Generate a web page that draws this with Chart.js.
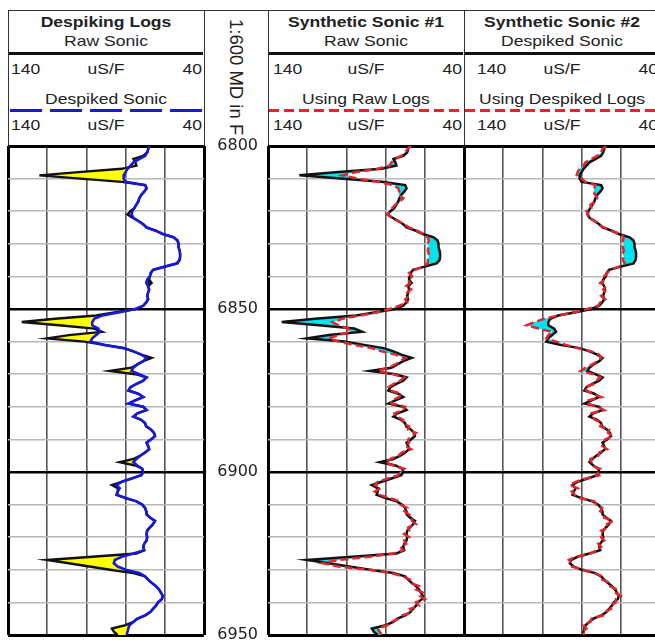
<!DOCTYPE html>
<html>
<head>
<meta charset="utf-8">
<script src="https://cdn.jsdelivr.net/npm/chart.js@4.4.1/dist/chart.umd.min.js"></script>
<style>
  html, body { margin: 0; padding: 0; background: #fff; }
  #page { position: relative; width: 655px; height: 640px; overflow: hidden; font-family: "Liberation Sans", Arial, sans-serif; color: #222; }
  canvas { position: absolute; top: 0; }
  .t { position: absolute; font-size: 15px; line-height: 17px; white-space: nowrap; }
  .ctr { width: 196px; text-align: center; transform: scaleX(1.17); transform-origin: 50% 0; }
  .lft { transform: scaleX(1.17); transform-origin: 0 0; }
  .rgt { width: 60px; text-align: right; transform: scaleX(1.17); transform-origin: 100% 0; }
  .b { font-weight: bold; }
  .ln { position: absolute; }
  .vl { position: absolute; top: 10px; height: 136px; width: 1.5px; background: #333; }
  .thick { position: absolute; top: 52px; height: 3px; width: 194px; background: #111; }
  .dash { position: absolute; top: 108.5px; height: 3px; width: 194px; }
  #depthTitle { position: absolute; left: 226px; top: 19px; font-size: 18.5px; line-height: 20px; writing-mode: vertical-rl; white-space: nowrap; }
</style>
</head>
<body>
<div id="page">
  <div class="ln" style="left:8px;top:9.5px;width:660px;height:1.5px;background:#333"></div>
  <div class="vl" style="left:7.5px"></div>
  <div class="vl" style="left:203.5px"></div>
  <div class="vl" style="left:267.5px"></div>
  <div class="vl" style="left:463.5px"></div>

  <div class="t ctr b" style="left:8px;top:13px">Despiking Logs</div>
  <div class="t ctr" style="left:8px;top:32px">Raw Sonic</div>
  <div class="thick" style="left:9px"></div>
  <div class="t lft" style="left:11px;top:60.3px">140</div>
  <div class="t ctr" style="left:8px;top:60.3px">uS/F</div>
  <div class="t rgt" style="left:142px;top:60.3px">40</div>
  <div class="t ctr" style="left:8px;top:90.3px">Despiked Sonic</div>
  <div class="dash" style="left:10px;background:repeating-linear-gradient(to right,#1818d8 0 32px,transparent 32px 40px)"></div>
  <div class="t lft" style="left:11px;top:115.6px">140</div>
  <div class="t ctr" style="left:8px;top:115.6px">uS/F</div>
  <div class="t rgt" style="left:142px;top:115.6px">40</div>

  <div id="depthTitle">1:600 MD in F</div>

  <div class="t ctr b" style="left:268px;top:13px">Synthetic Sonic #1</div>
  <div class="t ctr" style="left:268px;top:32px">Raw Sonic</div>
  <div class="thick" style="left:269px"></div>
  <div class="t lft" style="left:273px;top:60.3px">140</div>
  <div class="t ctr" style="left:268px;top:60.3px">uS/F</div>
  <div class="t rgt" style="left:402px;top:60.3px">40</div>
  <div class="t ctr" style="left:268px;top:90.3px">Using Raw Logs</div>
  <div class="dash" style="left:269px;background:repeating-linear-gradient(to right,#e3262b 0 10px,transparent 10px 15px)"></div>
  <div class="t lft" style="left:273px;top:115.6px">140</div>
  <div class="t ctr" style="left:268px;top:115.6px">uS/F</div>
  <div class="t rgt" style="left:402px;top:115.6px">40</div>

  <div class="t ctr b" style="left:464px;top:13px">Synthetic Sonic #2</div>
  <div class="t ctr" style="left:464px;top:32px">Despiked Sonic</div>
  <div class="thick" style="left:465px"></div>
  <div class="t lft" style="left:477px;top:60.3px">140</div>
  <div class="t ctr" style="left:464px;top:60.3px">uS/F</div>
  <div class="t rgt" style="left:598px;top:60.3px">40</div>
  <div class="t ctr" style="left:464px;top:90.3px">Using Despiked Logs</div>
  <div class="dash" style="left:465px;background:repeating-linear-gradient(to right,#e3262b 0 10px,transparent 10px 15px)"></div>
  <div class="t lft" style="left:477px;top:115.6px">140</div>
  <div class="t ctr" style="left:464px;top:115.6px">uS/F</div>
  <div class="t rgt" style="left:598px;top:115.6px">40</div>

  <canvas id="track1" width="210" height="690" style="left:0px"></canvas>
  <canvas id="track2" width="266" height="690" style="left:204px"></canvas>
  <canvas id="track3" width="209" height="690" style="left:458px"></canvas>
</div>

<script>
// depth samples, 1 ft apart, 6800 - 6950
const depths = [];
for (let d = 6800; d <= 6950; d++) depths.push(d);

// sonic values in uS/F, one per depth sample
const rawSonic = [
  68, 68.5, 69, 71, 76, 75, 74.5, 82, 104, 124,
  103, 82, 70, 69.3, 70.5, 72, 73, 73.5, 74.5, 75.5,
  77.5, 79, 76.5, 73.5, 71, 69.3, 64.5, 61, 55.5, 53.5,
  53, 53, 52.5, 52.2, 52.2, 52.5, 54, 60, 66, 67.2,
  67.6, 68, 66.7, 68.5, 68, 68.5, 69, 68.5, 69.5, 71,
  75, 85, 95, 116, 133, 114, 96, 92, 109, 120,
  101, 91, 81, 76, 72, 66.7, 71, 74, 77, 88,
  75, 69.3, 71, 74.5, 77.5, 78.6, 73.5, 71, 75, 78.5,
  71, 69.3, 74, 76, 72, 70.1, 69.5, 67, 65.5, 65,
  67, 69.3, 68.5, 68, 70, 72.5, 76, 83, 75, 71.5,
  71, 72, 77, 82, 87, 84, 84, 84.6, 80, 74.4,
  71.5, 70.1, 69.5, 69.3, 67.5, 65, 66, 67.6, 69, 69.3,
  69, 69.3, 70.5, 71, 70.5, 74.5, 97, 120, 109, 98.5,
  88, 76, 70.1, 68.5, 66.7, 64.5, 63, 62, 61, 61.5,
  63.5, 64.5, 66, 67.5, 70, 74, 76.1, 80, 87, 86,
  84
];

const despikedSonic = [
  68, 68.5, 69, 70, 73, 76, 77.5, 79, 80, 81,
  81, 80, 70, 69.3, 70.5, 72, 73, 73.5, 74.5, 75.5,
  76.5, 77, 76, 73.5, 71, 69.3, 64.5, 61, 55.5, 53.5,
  53, 53, 52.5, 52.2, 52.2, 52.5, 53.5, 60, 66, 67.2,
  67.6, 69, 69.5, 68.5, 68, 68.5, 69, 68.5, 69.5, 71,
  75, 83, 92, 96, 97, 97, 94, 93, 95, 97,
  98, 91, 81, 76, 72, 69.3, 71, 74, 76, 77,
  73, 69.3, 71, 74.5, 77.5, 78.6, 73.5, 71, 75, 78.5,
  71, 69.3, 74, 76, 72, 70.1, 69.5, 67, 65.5, 65,
  67, 69.3, 68.5, 68, 70, 72.5, 74.5, 76, 74, 71.5,
  71, 72, 77, 82, 84.6, 83, 84, 84.6, 80, 74.4,
  71.5, 70.1, 69.5, 69.3, 67.5, 65, 66, 67.6, 69, 69.3,
  69, 69.3, 70.5, 71, 70.5, 76, 82, 85.5, 86, 84,
  80, 73, 70.1, 68.5, 66.7, 64.5, 63, 62, 61, 61.5,
  63.5, 64.5, 66, 67.5, 70, 74, 76.1, 78, 78.6, 79,
  79.5
];

const synthRaw = [
  67, 69, 70, 72, 75, 77, 78, 84, 95, 102,
  94, 84, 76, 73.5, 73, 73.5, 71, 72.5, 75, 76.5,
  78, 79, 77, 74, 70.5, 68, 64, 60.5, 58.5, 58,
  58.5, 58, 58.5, 58, 58, 58.5, 58.5, 61, 65, 68,
  66.5, 68.5, 67.5, 69.5, 67, 69, 68, 70, 69, 73,
  78, 84, 93, 102, 107, 104, 99, 98, 104, 109,
  104, 96, 87, 82, 75, 70, 72.5, 75, 79, 84,
  76, 70.5, 72.5, 76, 78.5, 77.5, 72, 73, 77, 77,
  70, 71, 75.5, 74.5, 71, 71.5, 68, 68.5, 64.5, 66.5,
  68.5, 68, 70, 67, 71.5, 73.5, 77.5, 80, 76, 70.5,
  72.5, 73.5, 79, 84, 85.5, 82.5, 85.5, 83, 78, 73,
  72.5, 69, 70.5, 68, 66, 66.5, 64.5, 68.5, 68, 70.5,
  68, 70.5, 69.5, 72.5, 71, 76, 88, 104, 112, 104,
  88, 77, 71.5, 67.5, 67.5, 63, 64.5, 61, 62.5, 60,
  64.5, 63, 67.5, 66.5, 71.5, 73, 77.5, 79, 84, 83,
  82
];

const synthDespiked = [
  67.5, 69.5, 70, 72, 75, 78, 79, 81, 82, 82.5,
  80, 78, 73, 73.5, 74, 73, 72, 73, 75.5, 75,
  77.5, 76.5, 77, 73, 71.5, 68.5, 65, 60, 58.5, 59,
  58.5, 59, 58.5, 59, 58.5, 59, 58, 61, 65.5, 67,
  68.5, 68, 70.5, 67.5, 69, 67.5, 70, 68, 70.5, 71.5,
  77, 84, 92, 99, 104, 108, 102, 95, 97, 98,
  93, 88, 82, 75, 71, 70, 72, 74.5, 78, 80.5,
  74, 70.5, 72.5, 73.5, 78.5, 77.5, 74.5, 70, 76.5, 77.5,
  72, 68.5, 75, 75, 73, 69.5, 70.5, 66, 66.5, 64,
  68, 68.5, 69.5, 67, 71, 71.5, 75.5, 75, 75, 70.5,
  72, 71, 78, 83, 86, 82, 85, 83.5, 81, 73.5,
  72.5, 69.5, 70.5, 68.5, 68.5, 64, 67, 66.5, 70, 68.5,
  70, 68.5, 71.5, 70, 72, 75.5, 83, 86.5, 85, 85,
  79, 74, 69, 69.5, 65.5, 65.5, 62, 63, 60, 62.5,
  62.5, 65.5, 65, 68.5, 69, 75, 75.5, 79, 77.5, 80,
  78.5
];

const toPoints = (vals) => vals.map((v, i) => ({ x: v, y: depths[i] }));

// shades the area between two curves (yellow / cyan)
const fillBetween = {
  id: "fillBetween",
  beforeDatasetsDraw(chart, args, opts) {
    const a = chart.getDatasetMeta(opts.from).data;
    const b = chart.getDatasetMeta(opts.to).data;
    const area = chart.chartArea;
    const ctx = chart.ctx;
    ctx.save();
    ctx.beginPath();
    ctx.rect(area.left, area.top, area.right - area.left, area.bottom - area.top);
    ctx.clip();
    ctx.beginPath();
    a.forEach((p, i) => (i ? ctx.lineTo(p.x, p.y) : ctx.moveTo(p.x, p.y)));
    for (let i = b.length - 1; i >= 0; i--) ctx.lineTo(b[i].x, b[i].y);
    ctx.closePath();
    ctx.fillStyle = opts.color;
    ctx.fill();
    ctx.restore();
  },
};

const isEdgeX = (c) => c.tick && (c.tick.value === 40 || c.tick.value === 140);
const isMajorY = (c) => c.tick && c.tick.value % 50 === 0;
const isEdgeY = (c) => c.tick && (c.tick.value === 6800 || c.tick.value === 6950);

const makeScales = (showDepth) => ({
  x: {
    type: "linear",
    min: 40,
    max: 140,
    reverse: true,
    ticks: { display: false, stepSize: 20 },
    grid: {
      drawTicks: false,
      color: (c) => (isEdgeX(c) ? "#000" : "#555"),
      lineWidth: (c) => (isEdgeX(c) ? 3 : 1.6),
    },
    border: { display: false },
  },
  y: {
    type: "linear",
    min: 6800,
    max: 6950,
    reverse: true,
    ticks: {
      display: showDepth,
      stepSize: 10,
      autoSkip: false,
      padding: 10,
      color: "#222",
      font: { family: "DejaVu Sans", size: 16 },
      callback: (v) => (v % 50 === 0 ? String(v) : ""),
    },
    grid: {
      drawTicks: false,
      color: (c) => (isMajorY(c) ? "#000" : "#b8b8b8"),
      lineWidth: (c) => (isEdgeY(c) ? 3 : isMajorY(c) ? 2.5 : 1.6),
    },
    border: { display: false },
    afterFit: (scale) => {
      if (showDepth) scale.width = 64;
    },
  },
});

const line = (label, vals, color, width, dash) => ({
  label: label,
  data: toPoints(vals),
  showLine: true,
  borderColor: color,
  borderWidth: width,
  borderDash: dash || [],
  pointRadius: 0,
  tension: 0,
});

const makeTrack = (id, datasets, padding, shade, showDepth) =>
  new Chart(document.getElementById(id).getContext("2d"), {
    type: "scatter",
    data: { datasets: datasets },
    options: {
      responsive: false,
      animation: false,
      events: [],
      layout: { padding: padding },
      scales: makeScales(showDepth),
      plugins: {
        legend: { display: false },
        tooltip: { enabled: false },
        fillBetween: shade,
      },
    },
    plugins: [fillBetween],
  });

makeTrack(
  "track1",
  [
    line("Despiked Sonic", despikedSonic, "#1818d8", 2.6),
    line("Raw Sonic", rawSonic, "#111", 2.4),
  ],
  { left: 8, top: 146, right: 6, bottom: 55 },
  { from: 0, to: 1, color: "#ffff00" },
  false
);

makeTrack(
  "track2",
  [
    line("Using Raw Logs", synthRaw, "#e3262b", 2.5, [8, 4]),
    line("Raw Sonic", rawSonic, "#111", 2.5),
  ],
  { left: 0, top: 146, right: 6, bottom: 55 },
  { from: 0, to: 1, color: "#00e5ee" },
  true
);

makeTrack(
  "track3",
  [
    line("Using Despiked Logs", synthDespiked, "#e3262b", 2.5, [8, 4]),
    line("Despiked Sonic", despikedSonic, "#111", 2.5),
  ],
  { left: 6, top: 146, right: 7, bottom: 55 },
  { from: 0, to: 1, color: "#00e5ee" },
  false
);
</script>
</body>
</html>
